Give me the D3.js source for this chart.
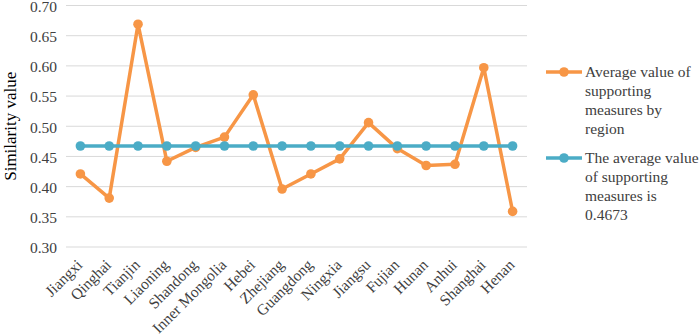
<!DOCTYPE html>
<html>
<head>
<meta charset="utf-8">
<script src="https://cdn.jsdelivr.net/npm/d3@7"></script>
</head>
<body style="margin:0">
<div id="chart"></div>
<script>
var regions = ["Jiangxi", "Qinghai", "Tianjin", "Liaoning", "Shandong", "Inner Mongolia", "Hebei",
  "Zhejiang", "Guangdong", "Ningxia", "Jiangsu", "Fujian", "Hunan", "Anhui", "Shanghai", "Henan"];
var regionValues = [0.421, 0.381, 0.669, 0.442, 0.465, 0.482, 0.552, 0.396, 0.421, 0.446,
  0.506, 0.463, 0.435, 0.437, 0.597, 0.359];
var averageValues = regions.map(function () { return 0.4673; });
var yTicks = [0.30, 0.35, 0.40, 0.45, 0.50, 0.55, 0.60, 0.65, 0.70];
var seriesNames = [
  ["Average value of", "supporting", "measures by", "region"],
  ["The average value", "of supporting", "measures is", "0.4673"]
];
var colors = ["#f79646", "#4bacc6"];

const FONT = "Liberation Serif";

function drawChart() {
  const width = 699, height = 336;
  const left = 66, right = 527, top = 5.5, bottom = 247;

  const svg = d3.select("#chart").append("svg")
    .attr("width", width).attr("height", height)
    .attr("font-family", FONT);

  const x = d3.scaleBand().domain(regions).range([left, right]);
  const y = d3.scaleLinear().domain([0.30, 0.70]).range([bottom, top]);

  // gridlines
  svg.append("g").selectAll("line")
    .data(yTicks).enter().append("line")
    .attr("x1", left).attr("x2", right)
    .attr("y1", d => y(d)).attr("y2", d => y(d))
    .attr("stroke", "#d9d9d9").attr("stroke-width", 1);

  // y axis labels
  const yAxis = svg.append("g")
    .attr("transform", "translate(" + left + ",0)")
    .call(d3.axisLeft(y).tickValues(yTicks).tickFormat(d3.format(".2f")).tickSize(0).tickPadding(9));
  yAxis.attr("font-family", FONT).attr("font-size", 15.5);
  yAxis.select(".domain").remove();
  yAxis.selectAll("text")
    .attr("font-family", FONT).attr("font-size", 15.5).attr("fill", "#404040")
    .attr("dy", "0.38em");

  // x axis labels, rotated
  const xAxis = svg.append("g")
    .attr("transform", "translate(0," + bottom + ")")
    .call(d3.axisBottom(x).tickSize(0));
  xAxis.attr("font-family", FONT).attr("font-size", 15.5);
  xAxis.select(".domain").remove();
  xAxis.selectAll("text")
    .attr("font-family", FONT).attr("font-size", 15.5).attr("fill", "#404040")
    .attr("text-anchor", "end")
    .attr("dy", "0.35em").attr("y", 0)
    .attr("transform", "translate(-1,15) rotate(-45)");

  // y title
  svg.append("text")
    .attr("transform", "translate(16," + ((top + bottom) / 2) + ") rotate(-90)")
    .attr("text-anchor", "middle")
    .attr("fill", "#000")
    .attr("font-family", FONT)
    .attr("font-size", 17)
    .text("Similarity value");

  const line = d3.line()
    .x((d, i) => x(regions[i]) + x.bandwidth() / 2)
    .y(d => y(d));

  [regionValues, averageValues].forEach(function (vals, k) {
    const g = svg.append("g");
    g.append("path").datum(vals)
      .attr("fill", "none").attr("stroke", colors[k])
      .attr("stroke-width", 3.5).attr("stroke-linejoin", "round")
      .attr("d", line);
    g.selectAll("circle").data(vals).enter().append("circle")
      .attr("cx", (d, i) => x(regions[i]) + x.bandwidth() / 2)
      .attr("cy", d => y(d))
      .attr("r", 4.8)
      .attr("fill", colors[k]);
  });

  // legend
  const legendTop = [72, 158];
  seriesNames.forEach(function (lines, k) {
    const lg = svg.append("g").attr("transform", "translate(0," + legendTop[k] + ")");
    lg.append("line").attr("x1", 546).attr("x2", 582).attr("y1", 0).attr("y2", 0)
      .attr("stroke", colors[k]).attr("stroke-width", 3.5);
    lg.append("circle").attr("cx", 564).attr("cy", 0).attr("r", 4.8).attr("fill", colors[k]);
    lg.selectAll("text").data(lines).enter().append("text")
      .attr("x", 585).attr("y", (d, i) => i * 18.7)
      .attr("dy", "0.35em")
      .attr("fill", "#404040")
      .attr("font-family", FONT)
      .attr("font-size", 15.5)
      .text(d => d);
  });
}

drawChart();
</script>
</body>
</html>
